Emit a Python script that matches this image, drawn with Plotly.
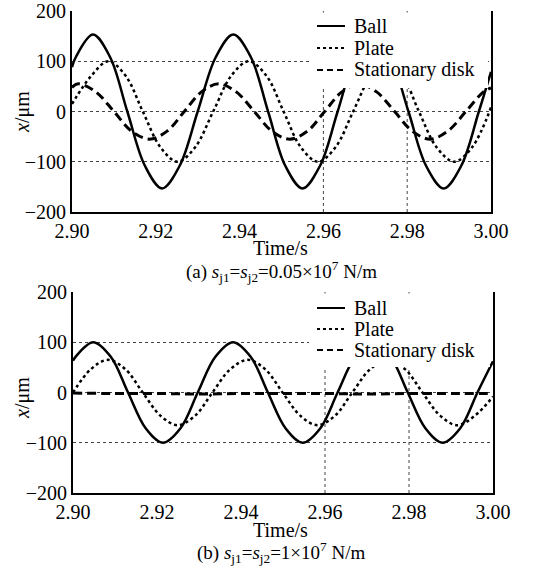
import plotly.graph_objects as go

W, H = 545, 571

# ---------------- data ----------------
series_names = ["Ball", "Plate", "Stationary disk"]

# (a) s_j1 = s_j2 = 0.05e7 N/m
t_ball_a = [2.9000, 2.9009, 2.9050, 2.9091, 2.9132, 2.9174, 2.9215, 2.9257, 2.9300, 2.9343,
            2.9385, 2.9427, 2.9468, 2.9509, 2.9550, 2.9592, 2.9634, 2.9676, 2.9718, 2.9760,
            2.9803, 2.9845, 2.9887, 2.9929, 2.9971, 3.0000]
ball_a = [88, 108, 153, 108, 0, -108, -153, -108, 0, 108,
          153, 108, 0, -108, -153, -108, 0, 108, 153, 108,
          0, -108, -153, -108, 0, 79]

t_plate_a = [2.9000, 2.9046, 2.9087, 2.9128, 2.9169, 2.9211, 2.9252, 2.9294, 2.9337, 2.9380,
             2.9422, 2.9464, 2.9505, 2.9546, 2.9587, 2.9629, 2.9671, 2.9713, 2.9750, 2.9789,
             2.9828, 2.9870, 2.9912, 2.9955, 3.0000]
plate_a = [15, 71, 100, 71, 0, -71, -100, -71, 0, 71,
           100, 71, 0, -71, -100, -71, 0, 71, 100, 71,
           0, -71, -100, -71, 8]

t_disk_a = [2.9000, 2.9015, 2.9057, 2.9100, 2.9142, 2.9185, 2.9227, 2.9268, 2.9309, 2.9350,
            2.9392, 2.9435, 2.9477, 2.9520, 2.9562, 2.9603, 2.9644, 2.9685, 2.9727, 2.9770,
            2.9812, 2.9855, 2.9897, 2.9940, 2.9982, 3.0000]
disk_a = [48, 55, 39, 0, -39, -55, -39, 0, 39, 55,
          39, 0, -39, -55, -39, 0, 39, 55, 39, 0,
          -39, -55, -39, 0, 39, 47]

# (b) s_j1 = s_j2 = 1e7 N/m
t_ball_b = [2.9000, 2.9006, 2.9048, 2.9090, 2.9131, 2.9173, 2.9214, 2.9256, 2.9297, 2.9339,
            2.9381, 2.9423, 2.9464, 2.9506, 2.9547, 2.9589, 2.9630, 2.9672, 2.9714, 2.9756,
            2.9797, 2.9839, 2.9880, 2.9922, 2.9963, 3.0000]
ball_b = [63, 71, 100, 71, 0, -71, -100, -71, 0, 71,
          100, 71, 0, -71, -100, -71, 0, 71, 100, 71,
          0, -71, -100, -71, 0, 62]

t_plate_b = [2.9000, 2.9042, 2.9083, 2.9125, 2.9166, 2.9208, 2.9249, 2.9291, 2.9332, 2.9374,
             2.9416, 2.9458, 2.9499, 2.9541, 2.9582, 2.9624, 2.9665, 2.9707, 2.9749, 2.9791,
             2.9832, 2.9874, 2.9915, 2.9957, 3.0000]
plate_b = [0, 46, 65, 46, 0, -46, -65, -46, 0, 46,
           65, 46, 0, -46, -65, -46, 0, 46, 65, 46,
           0, -46, -65, -46, -8]

t_disk_b = [2.90, 2.91, 2.92, 2.93, 2.94, 2.95, 2.96, 2.97, 2.98, 2.99, 3.00]
disk_b = [-1, -2, -2, -3, -2, -2, -2, -3, -2, -2, -2]

x_ticks = [2.90, 2.92, 2.94, 2.96, 2.98, 3.00]
x_tick_labels = ["2.90", "2.92", "2.94", "2.96", "2.98", "3.00"]
y_ticks = [-200, -100, 0, 100, 200]
y_tick_labels = ["\u2212200", "\u2212100", "0", "100", "200"]
vgrid_times = [2.96, 2.98]

captions = ["(a) <i>s</i><sub>j1</sub>=<i>s</i><sub>j2</sub>=0.05\u00d710<sup>7</sup> N/m",
            "(b) <i>s</i><sub>j1</sub>=<i>s</i><sub>j2</sub>=1\u00d710<sup>7</sup> N/m"]
x_title = "Time/s"
y_title = "<i>x</i>/\u03bcm"

# ---------------- styling ----------------
FONT = "Liberation Serif"
styles = [dict(color="black", width=2.5, dash="solid"),
          dict(color="black", width=2.5, dash="dot"),
          dict(color="black", width=3, dash="9px,5px")]

def px(x):
    return x / W

def py(y):
    return 1 - y / H

fig = go.Figure()

panels = [
    dict(xa="x", ya="y", data=[(t_ball_a, ball_a), (t_plate_a, plate_a), (t_disk_a, disk_a)],
         box=(72, 491, 11, 212), legend=(309, 488, 12.5, 88, 26, 22),
         xt=248, cap=271, yt=(22, 112)),
    dict(xa="x2", ya="y2", data=[(t_ball_b, ball_b), (t_plate_b, plate_b), (t_disk_b, disk_b)],
         box=(73, 493, 292, 493), legend=(309, 490, 293.5, 367, 308, 21),
         xt=530, cap=552, yt=(22, 398)),
]

shapes = []
annotations = []
for i, p in enumerate(panels):
    for (tx, vy), name, st in zip(p["data"], series_names, styles):
        fig.add_trace(go.Scatter(x=tx, y=vy, name=name, mode="lines",
                                 line=dict(shape="spline", smoothing=1.0, **st),
                                 xaxis=p["xa"], yaxis=p["ya"], showlegend=False))
    for vt in vgrid_times:
        shapes.append(dict(type="line", xref=p["xa"], yref=p["ya"], x0=vt, x1=vt,
                           y0=-200, y1=200, layer="below",
                           line=dict(color="#444", width=1, dash="dot")))
    # legend drawn by hand
    lx0, lx1, ly0, ly1, row0, dy = p["legend"]
    shapes.append(dict(type="rect", xref="paper", yref="paper",
                       x0=px(lx0), x1=px(lx1), y0=py(ly1), y1=py(ly0),
                       fillcolor="white", line=dict(width=0), layer="above"))
    for k, (name, st) in enumerate(zip(series_names, styles)):
        yy = row0 + k * dy
        shapes.append(dict(type="line", xref="paper", yref="paper",
                           x0=px(317), x1=px(345), y0=py(yy), y1=py(yy), layer="above",
                           line=dict(color="black", width=2,
                                     dash="solid" if k == 0 else ("dot" if k == 1 else "6px,4px"))))
        annotations.append(dict(xref="paper", yref="paper", x=px(352), y=py(yy),
                                text=name, showarrow=False, xanchor="left", yanchor="middle",
                                font=dict(family=FONT, size=20, color="black")))
    x0, x1, y0, y1 = p["box"]
    annotations.append(dict(xref="paper", yref="paper", x=px(280), y=py(p["xt"]),
                            text=x_title, showarrow=False, xanchor="center", yanchor="middle",
                            font=dict(family=FONT, size=20, color="black")))
    annotations.append(dict(xref="paper", yref="paper", x=px(281), y=py(p["cap"]),
                            text=captions[i], showarrow=False, xanchor="center", yanchor="middle",
                            font=dict(family=FONT, size=19, color="black")))
    annotations.append(dict(xref="paper", yref="paper", x=px(p["yt"][0]), y=py(p["yt"][1]),
                            text=y_title, showarrow=False, textangle=-90,
                            xanchor="center", yanchor="middle",
                            font=dict(family=FONT, size=20, color="black")))

axis_common = dict(showline=True, linecolor="black", linewidth=2, ticks="",
                   automargin=False,
                   tickfont=dict(family=FONT, size=20, color="black"), zeroline=False)

layout = dict(width=W, height=H, margin=dict(l=0, r=0, t=0, b=0, autoexpand=False),
              paper_bgcolor="white", plot_bgcolor="white",
              font=dict(family=FONT, size=20, color="black"),
              showlegend=False, shapes=shapes, annotations=annotations)

for i, p in enumerate(panels):
    x0, x1, y0, y1 = p["box"]
    sfx = "" if i == 0 else "2"
    layout["xaxis" + sfx] = dict(domain=[px(x0), px(x1)], range=[2.9, 3.0], anchor="y" + sfx,
                                 tickvals=x_ticks, ticktext=x_tick_labels, showgrid=False,
                                 mirror=False, **axis_common)
    layout["yaxis" + sfx] = dict(domain=[py(y1), py(y0)], range=[-200, 200], anchor="x" + sfx,
                                 tickvals=y_ticks, ticktext=y_tick_labels, showgrid=True,
                                 gridcolor="#444", gridwidth=1, griddash="dot",
                                 mirror=True, **axis_common)

fig.update_layout(**layout)
fig.write_html("out.html", config={"displayModeBar": False},
               post_script="document.body.style.margin='0px';document.body.style.overflow='hidden';")
